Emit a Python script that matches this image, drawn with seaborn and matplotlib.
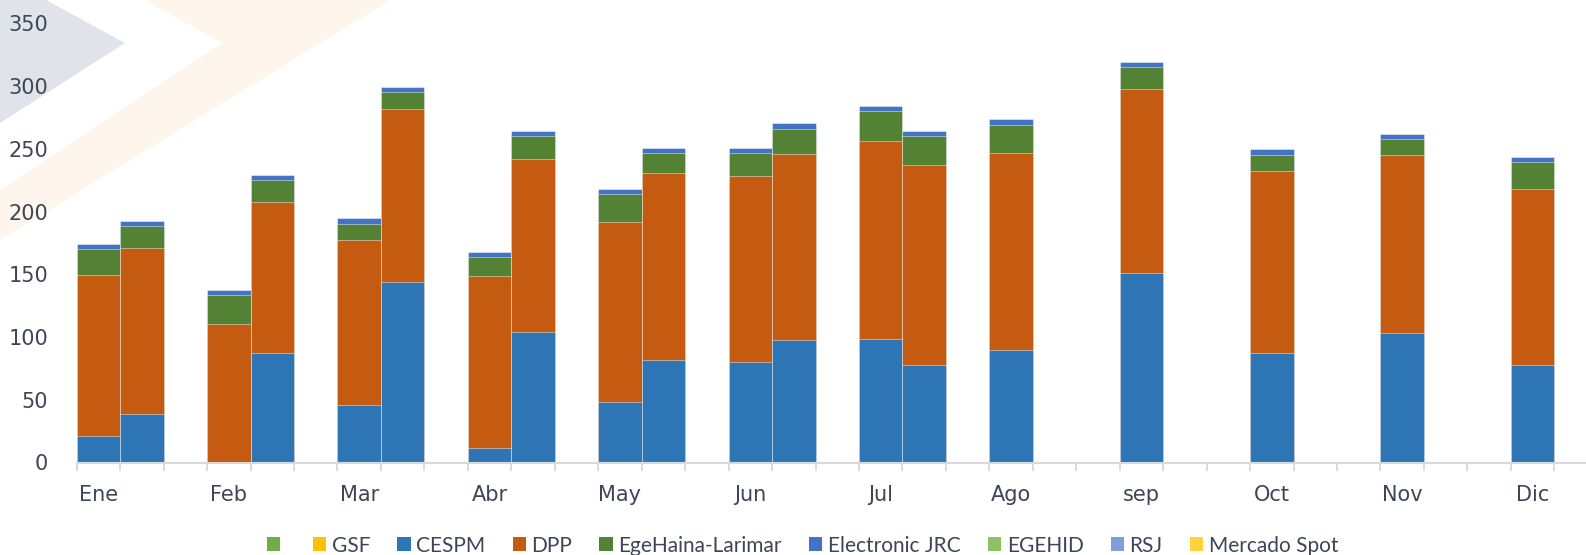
import numpy as np
import pandas as pd
import matplotlib
matplotlib.use('Agg')
import matplotlib.pyplot as plt
from matplotlib.patches import Patch, Polygon
import seaborn as sns

# months and the two bars per month (second bar only Ene-Jul)
months = ['Ene', 'Feb', 'Mar', 'Abr', 'May', 'Jun', 'Jul', 'Ago', 'sep', 'Oct', 'Nov', 'Dic']

cespm_a = [21, 0, 45.5, 11.5, 48, 80, 98.5, 89.5, 151, 87, 103, 78]
cespm_b = [39, 87, 144, 104, 81.5, 97.5, 77.5]
dpp_a = [128.5, 110.5, 132, 137, 144, 148, 157.5, 157, 147, 145, 142, 140]
dpp_b = [132, 120.5, 138, 138, 149, 148.5, 160]
ege_a = [20.5, 23, 12.5, 15, 22, 19, 24, 22.5, 17, 13.5, 12.5, 21.5]
ege_b = [17.5, 17.5, 13.5, 18.5, 16, 20, 22.5]
jrc_a = [4, 4, 4.5, 4, 3.7, 4, 4.5, 4.5, 4, 4, 4, 4]
jrc_b = [4, 4, 4, 4, 4, 4.5, 4.5]

series = ['CESPM', 'DPP', 'EgeHaina-Larimar', 'Electronic JRC']
legend_labels = ['', 'GSF', 'CESPM', 'DPP', 'EgeHaina-Larimar', 'Electronic JRC', 'EGEHID', 'RSJ', 'Mercado Spot']
legend_colors = ['#70AD47', '#FFC000', '#2E75B6', '#C55A11', '#548235', '#4472C4', '#8CC168', '#7F9FDB', '#FFD33D']
colors = dict(zip(legend_labels, legend_colors))

# build table: slot names a/b/gap per month
order = []
for m in months:
    order += [m + '_a', m + '_b', m + '_gap']

rows = []
for i, m in enumerate(months):
    rows.append([m + '_a', cespm_a[i], dpp_a[i], ege_a[i], jrc_a[i]])
    if i < len(cespm_b):
        rows.append([m + '_b', cespm_b[i], dpp_b[i], ege_b[i], jrc_b[i]])
df = pd.DataFrame(rows, columns=['slot'] + series)
cum = df[series].cumsum(axis=1)

fig = plt.figure(figsize=(15.86, 5.55), dpi=100)

# faint watermark shapes in the background
W, H = 1586, 555
def poly(pts, c):
    xy = [(x / W, 1 - y / H) for x, y in pts]
    fig.add_artist(Polygon(xy, closed=True, transform=fig.transFigure, facecolor=c, edgecolor='none', zorder=0))
poly([(0, 0), (46, 0), (125, 43), (0, 123)], '#E0E3E9')
poly([(145, 0), (390, 0), (0, 240), (0, 190), (222, 43)], '#FEF5EC')

ax = fig.add_axes([76.7 / W, 92.5 / H, 36 * 43.46 / W, 439.1 / H])
ax.set_facecolor('none')

text_c = '#3E4555'
plt.rcParams['font.family'] = ['Lato', 'DejaVu Sans']

for s in reversed(series):
    sns.barplot(x=df['slot'], y=cum[s], order=order, color=colors[s], width=1.0,
                saturation=1, edgecolor=(1, 1, 1, 0.45), linewidth=0.7, ax=ax, zorder=2)

ax.set_ylim(0, 350)
ax.set_xlim(-0.5, 35.5)
ax.set_yticks(range(0, 351, 50))
ax.set_xticks([i * 3 for i in range(12)])
ax.set_xticklabels(months)
ax.set_xticks(np.arange(-0.5, 36, 1), minor=True)
ax.tick_params(axis='y', length=0, pad=20.5, labelsize=15, labelcolor=text_c)
ax.tick_params(axis='x', which='major', length=0, pad=16, labelsize=15, labelcolor=text_c)
ax.tick_params(axis='x', which='minor', length=6, width=1.4, color='#D9D9D9')
ax.set_xlabel('')
ax.set_ylabel('')
for sp in ['top', 'right', 'left']:
    ax.spines[sp].set_visible(False)
ax.spines['bottom'].set_color('#D9D9D9')
ax.spines['bottom'].set_linewidth(1.5)
ax.spines['bottom'].set_zorder(3)

handles = [Patch(facecolor=c, edgecolor='none') for c in legend_colors]
fig.legend(handles, legend_labels, loc='center', bbox_to_anchor=(0.506, 0.017), ncol=9,
           frameon=False, fontsize=15, labelcolor=text_c, handlelength=0.63, handleheight=0.63,
           handletextpad=0.28, columnspacing=1.3)

fig.savefig('out.png', dpi=100)
